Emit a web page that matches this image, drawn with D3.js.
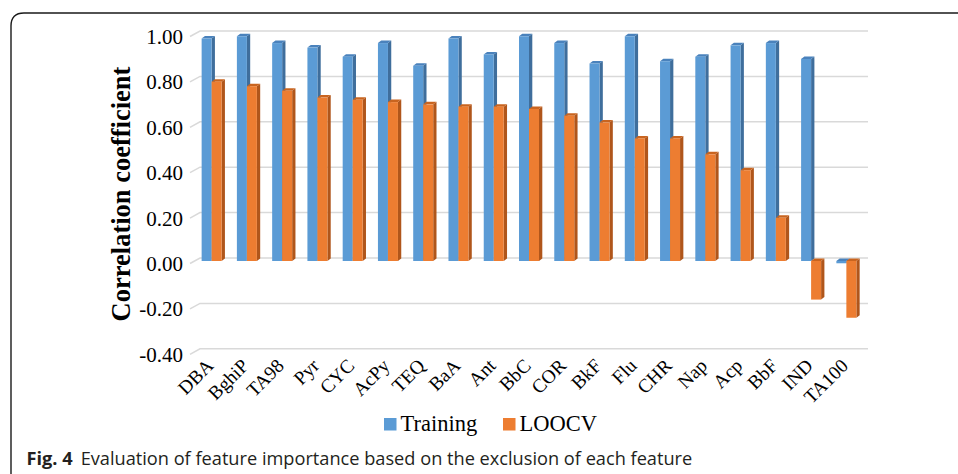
<!DOCTYPE html>
<html>
<head>
<meta charset="utf-8">
<script src="https://cdn.jsdelivr.net/npm/d3@7"></script>
<style>
  html, body { margin: 0; padding: 0; background: #fff; }
  svg { display: block; }
</style>
</head>
<body>
<svg id="chart" width="958" height="474"></svg>
<script>
// Feature whose exclusion is evaluated, in plotted order
const categories = ["DBA", "BghiP", "TA98", "Pyr", "CYC", "AcPy", "TEQ", "BaA", "Ant", "BbC",
                    "COR", "BkF", "Flu", "CHR", "Nap", "Acp", "BbF", "IND", "TA100"];
// Correlation coefficient of the model built without each feature
const training = [0.98, 0.99, 0.96, 0.94, 0.90, 0.96, 0.86, 0.98, 0.91, 0.99,
                  0.96, 0.87, 0.99, 0.88, 0.90, 0.95, 0.96, 0.89, -0.01];
const loocv    = [0.79, 0.77, 0.75, 0.72, 0.71, 0.70, 0.69, 0.68, 0.68, 0.67,
                  0.64, 0.61, 0.54, 0.54, 0.47, 0.40, 0.19, -0.17, -0.25];
const yTicks = [1.0, 0.8, 0.6, 0.4, 0.2, 0.0, -0.2, -0.4];
const seriesNames = ["Training", "LOOCV"];

const svg = d3.select("#chart");
const serif = "'Liberation Serif', 'Times New Roman', serif";

const colors = {
  Training: { front: "#5B9BD5", side: "#3F6E9C", top: "#4A82BC" },
  LOOCV:    { front: "#ED7D31", side: "#B0561B", top: "#C9641F" }
};

// Bar front plane value scale
const y = d3.scaleLinear().domain([-0.4, 1.0]).range([261 + 0.4 * 227, 261 - 227]);
// Category centres and series offsets within a category
const x = d3.scalePoint().domain(categories).range([194, 864]).padding(0.5);
const sub = d3.scaleBand().domain(seriesNames).range([-10, 10]);

// Oblique depth offsets
const wall = { dx: 10, dy: -5.5 };
const barDepth = { dx: 3.3, dy: -2.5 };

// Outer frame with rounded top-left corner
svg.append("path")
  .attr("d", "M11,474 V26 Q11,13 24,13 H958")
  .attr("fill", "none")
  .attr("stroke", "#1a1a1a")
  .attr("stroke-width", 1.4);

// Gridlines on the back wall, with short side-wall segments
const grid = svg.append("g").attr("stroke", "#d9d9d9").attr("stroke-width", 1.5).attr("fill", "none");
yTicks.forEach(v => {
  const yb = y(v) - 3;
  const yf = yb - wall.dy;
  grid.append("path")
    .attr("d", `M190,${yf} L${190 + wall.dx},${yb} H868`);
});

// Y tick labels (plain hyphen for negatives)
const fmt = v => d3.format(".2f")(v).replace("\u2212", "-");
svg.append("g").selectAll("text")
  .data(yTicks).join("text")
  .attr("x", 183)
  .attr("y", d => y(d) + 3)
  .attr("text-anchor", "end")
  .attr("dominant-baseline", "central")
  .attr("font-family", serif)
  .attr("font-size", 21)
  .attr("fill", "#000")
  .text(fmt);

// Y axis title
svg.append("text")
  .attr("transform", "translate(130,194) rotate(-90)")
  .attr("text-anchor", "middle")
  .attr("font-family", serif)
  .attr("font-weight", "bold")
  .attr("font-size", 26.5)
  .attr("fill", "#000")
  .text("Correlation coefficient");

// 3D columns
const rows = [];
categories.forEach((c, i) => {
  rows.push({ cat: c, series: "Training", value: training[i] });
  rows.push({ cat: c, series: "LOOCV", value: loocv[i] });
});

const bw = sub.bandwidth();
const bars = svg.append("g");
rows.forEach(d => {
  const x0 = x(d.cat) + sub(d.series);
  const x1 = x0 + bw;
  const yTop = y(Math.max(0, d.value));
  const yBot = y(Math.min(0, d.value));
  const col = colors[d.series];
  const g = bars.append("g");
  g.append("path")
    .attr("d", `M${x1},${yTop} L${x1 + barDepth.dx},${yTop + barDepth.dy} L${x1 + barDepth.dx},${yBot + barDepth.dy} L${x1},${yBot} Z`)
    .attr("fill", col.side);
  g.append("path")
    .attr("d", `M${x0},${yTop} L${x0 + barDepth.dx},${yTop + barDepth.dy} L${x1 + barDepth.dx},${yTop + barDepth.dy} L${x1},${yTop} Z`)
    .attr("fill", col.top);
  g.append("rect")
    .attr("x", x0).attr("y", yTop)
    .attr("width", bw).attr("height", Math.max(0.01, yBot - yTop))
    .attr("fill", col.front);
});

// Category labels, rotated
svg.append("g").selectAll("text")
  .data(categories).join("text")
  .attr("transform", d => `translate(${x(d) + 3},367) rotate(-45)`)
  .attr("text-anchor", "end")
  .attr("font-family", serif)
  .attr("font-size", 19.3)
  .attr("fill", "#000")
  .text(d => d);

// Legend
const legend = svg.append("g");
const legendItems = [
  { name: "Training", x: 384 },
  { name: "LOOCV", x: 503 }
];
legendItems.forEach(it => {
  legend.append("rect")
    .attr("x", it.x).attr("y", 418)
    .attr("width", 12.5).attr("height", 12.5)
    .attr("fill", colors[it.name].front);
  legend.append("text")
    .attr("x", it.x + 16.5).attr("y", 431)
    .attr("font-family", serif)
    .attr("font-size", 22.5)
    .attr("fill", "#000")
    .text(it.name);
});

// Caption
const cap = svg.append("text")
  .attr("x", 26.5).attr("y", 465)
  .attr("font-family", "'Open Sans', 'Noto Sans', sans-serif")
  .attr("font-size", 18.2)
  .attr("fill", "#231f20");
cap.append("tspan").attr("font-weight", "bold").text("Fig. 4");
cap.append("tspan").attr("dx", 8).text("Evaluation of feature importance based on the exclusion of each feature");
</script>
</body>
</html>
